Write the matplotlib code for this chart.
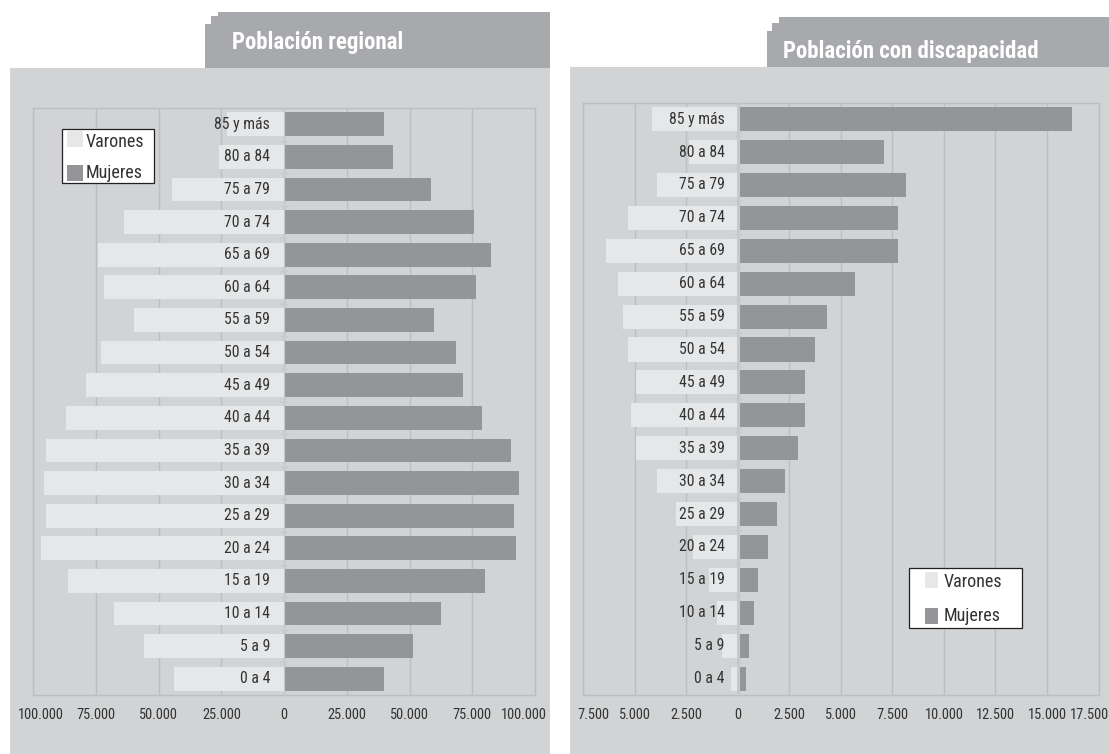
import matplotlib
matplotlib.use("Agg")
import matplotlib.pyplot as plt
from matplotlib import font_manager as fm
from matplotlib.patches import Rectangle
import numpy as np

# ---------------- data ----------------
categories = ['0 a 4', '5 a 9', '10 a 14', '15 a 19', '20 a 24', '25 a 29',
              '30 a 34', '35 a 39', '40 a 44', '45 a 49', '50 a 54', '55 a 59',
              '60 a 64', '65 a 69', '70 a 74', '75 a 79', '80 a 84', '85 y más']

reg_varones = [43800, 55700, 67800, 86100, 97000, 95100, 95900, 95100, 86900,
               79100, 72900, 60000, 71700, 74100, 63900, 44600, 25900, 22700]
reg_mujeres = [40000, 51400, 62400, 80200, 92600, 91700, 93800, 90500, 79000,
               71400, 68600, 59600, 76500, 82300, 75700, 58500, 43300, 40000]

dis_varones = [340, 750, 1000, 1420, 2190, 3010, 3940, 4950, 5190,
               4950, 5330, 5570, 5800, 6420, 5330, 3940, 2350, 4180]
dis_mujeres = [390, 530, 760, 990, 1460, 1920, 2300, 2900, 3270,
               3270, 3730, 4340, 5660, 7790, 7790, 8180, 7070, 16230]

reg_ticks = [-100000, -75000, -50000, -25000, 0, 25000, 50000, 75000, 100000]
reg_ticklabels = ['100.000', '75.000', '50.000', '25.000', '0',
                  '25.000', '50.000', '75.000', '100.000']
dis_ticks = [-7500, -5000, -2500, 0, 2500, 5000, 7500, 10000, 12500, 15000, 17500]
dis_ticklabels = ['7.500', '5.000', '2.500', '0', '2.500', '5.000', '7.500',
                  '10.000', '12.500', '15.000', '17.500']

title_left = 'Población regional'
title_right = 'Población con discapacidad'
legend_labels = ['Varones', 'Mujeres']

# ---------------- style ----------------
names = set(fm.get_font_names())
FONT = 'DejaVu Sans'
for cand in ['Liberation Sans Narrow', 'Roboto Condensed', 'DejaVu Sans Condensed',
             'Open Sans Condensed', 'Liberation Sans']:
    if cand in names:
        FONT = cand
        break
plt.rcParams['font.family'] = [FONT, 'DejaVu Sans']

C_PANEL = '#d1d3d4'
C_TAB = '#a7a9ac'
C_V = '#e6e7e8'
C_M = '#939598'
C_GRID = '#bcbec0'
C_ZERO = '#c6c8ca'
C_TXT = '#333333'

W, H = 1109, 754
fig = plt.figure(figsize=(W / 100, H / 100), dpi=100)
fig.patch.set_facecolor('white')


def frect(x0, y0, x1, y1, **kw):
    r = Rectangle((x0 / W, 1 - y1 / H), (x1 - x0) / W, (y1 - y0) / H,
                  transform=fig.transFigure, **kw)
    fig.add_artist(r)
    return r


def ftext(x, y, s, **kw):
    return fig.text(x / W, 1 - y / H, s, **kw)


# panels and header tabs
frect(10, 68, 550, 754, facecolor=C_PANEL, edgecolor='none', zorder=-10)
frect(570, 67, 1109, 754, facecolor=C_PANEL, edgecolor='none', zorder=-10)
for (x0, y0) in [(218, 12), (211, 16), (205, 24)]:
    frect(x0, y0, 550, 68, facecolor=C_TAB, edgecolor='none', zorder=-9)
for (x0, y0) in [(779, 17), (772, 23), (767, 31)]:
    frect(x0, y0, 1109, 67, facecolor=C_TAB, edgecolor='none', zorder=-9)

ftext(232, 49, title_left, color='white', fontsize=16.5, fontweight='bold',
      ha='left', va='baseline', zorder=5)
ftext(783, 58, title_right, color='white', fontsize=16.5, fontweight='bold',
      ha='left', va='baseline', zorder=5)


def make_axes(x0, y0, x1, y1):
    return fig.add_axes([x0 / W, 1 - y1 / H, (x1 - x0) / W, (y1 - y0) / H])


def draw_pyramid(ax, xlim, vals_v, vals_m, ticks, ticklabels, zero_lw, lab_off,
                 dx_first, dx_last):
    y = np.arange(len(categories))
    ax.set_xlim(*xlim)
    ax.set_ylim(-0.5, len(categories) - 0.5)
    ax.patch.set_alpha(0)
    ax.set_axisbelow(True)
    ax.barh(y, -np.asarray(vals_v), height=0.73, color=C_V, zorder=2)
    ax.barh(y, np.asarray(vals_m), height=0.73, color=C_M, zorder=2)
    ax.set_xticks(ticks)
    ax.set_xticklabels([])
    ax.set_yticks([])
    ax.tick_params(length=0)
    ax.grid(axis='x', color=C_GRID, lw=1.0)
    for sp in ax.spines.values():
        sp.set_color(C_GRID)
        sp.set_linewidth(1.0)
    ax.axvline(0, color=C_ZERO, lw=zero_lw, zorder=3)
    ax.plot(np.zeros(len(categories) - 1), y[:-1] + 0.5, ls='none', marker='_',
            ms=6, mew=0.8, color=C_ZERO, zorder=3)
    for i, c in enumerate(categories):
        ax.annotate(c, xy=(0, i), xytext=(-lab_off, 0), textcoords='offset pixels',
                    ha='right', va='center', fontsize=11.3, color=C_TXT, zorder=4)
    n = len(ticks)
    for k, (t, lab) in enumerate(zip(ticks, ticklabels)):
        dx = dx_first if k == 0 else (dx_last if k == n - 1 else 0)
        ax.annotate(lab, xy=(t, 0), xycoords=('data', 'axes fraction'),
                    xytext=(dx, -20), textcoords='offset pixels', ha='center',
                    va='center', fontsize=10.4, color=C_TXT, annotation_clip=False)


axL = make_axes(33.3, 108, 535, 695)
draw_pyramid(axL, (-100000, 100000), reg_varones, reg_mujeres,
             reg_ticks, reg_ticklabels, zero_lw=0.8, lab_off=14,
             dx_first=8, dx_last=-11)

axR = make_axes(583.3, 102.7, 1098.5, 695)
draw_pyramid(axR, (-7500, 17500), dis_varones, dis_mujeres,
             dis_ticks, dis_ticklabels, zero_lw=2.2, lab_off=13,
             dx_first=10, dx_last=-9)


def draw_legend(box, patches, text_x, baselines):
    frect(*box, facecolor='white', edgecolor='#231f20', lw=0.9, zorder=6)
    for (p, col) in zip(patches, [C_V, C_M]):
        frect(*p, facecolor=col, edgecolor='none', zorder=7)
    for lab, b in zip(legend_labels, baselines):
        ftext(text_x, b, lab, fontsize=13, color=C_TXT, ha='left',
              va='baseline', zorder=8)


draw_legend((61.7, 129.3, 154.3, 182.5),
            [(66.7, 131, 82.7, 146.7), (66.7, 165, 82.7, 181)],
            86, [146.7, 178.3])
draw_legend((909.3, 568.3, 1022, 628.3),
            [(925, 571.7, 938, 587.7), (925, 607.7, 938, 623.7)],
            944, [586.7, 621])

fig.savefig('out.png', dpi=100, facecolor='white')
